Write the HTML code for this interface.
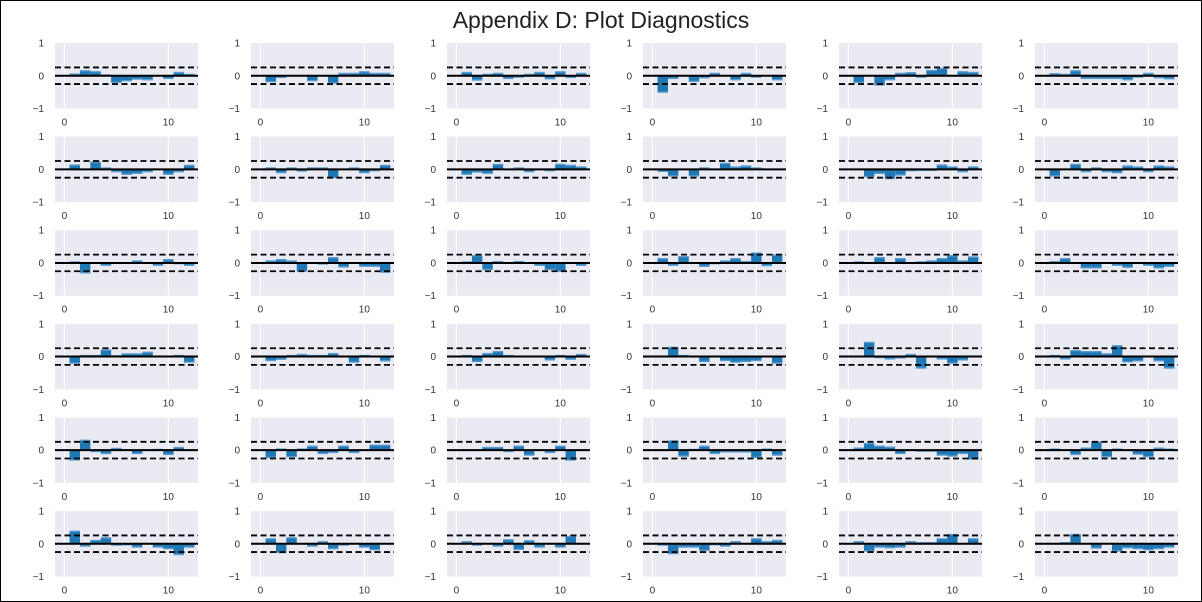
<!DOCTYPE html>
<html><head><meta charset="utf-8"><style>
body{margin:0;background:#fff;}
#fig{position:relative;width:1200px;height:600px;border:1px solid #000;background:#fff;overflow:hidden;font-family:"Liberation Sans",sans-serif;}
#title{position:absolute;left:0;width:1200px;top:6px;text-align:center;font-size:23px;color:#222;}
</style></head><body>
<div id="fig">
<div id="title">Appendix D: Plot Diagnostics</div>
<svg id="svg" width="1200" height="600" style="position:absolute;left:0;top:0"></svg>
</div>
<script>
const lags=[1,2,3,4,5,6,7,8,9,10,11,12];
const yTicks=[-1,0,1];
const xTicks=[0,10];
const confBand=0.254;
const s1=[0.05,0.15,0.12,0.02,-0.2,-0.15,-0.1,-0.12,0,-0.08,0.1,0.04];
const s2=[-0.18,-0.05,0,0,-0.15,0,-0.22,0.07,0.07,0.12,0.07,0.07];
const s3=[0.1,-0.13,0.04,0.07,-0.08,-0.04,0.04,0.1,-0.09,0.12,-0.05,0.07];
const s4=[-0.5,-0.08,0,-0.17,-0.06,0.07,0,-0.12,0.07,-0.04,0,-0.12];
const s5=[-0.2,0,-0.28,-0.12,0.07,0.09,-0.04,0.16,0.22,0,0.12,0.1];
const s6=[0.06,0.04,0.15,-0.08,-0.08,-0.08,-0.08,-0.12,-0.04,0.07,-0.06,-0.09];
const s7=[0.13,0,0.22,0.04,-0.07,-0.15,-0.12,-0.07,0,-0.15,-0.07,0.12];
const s8=[0.04,-0.1,0.04,-0.05,0.04,0.04,-0.25,0,0.04,-0.1,-0.04,0.12];
const s9=[-0.15,-0.08,-0.12,0.15,0,0.04,-0.07,0,-0.04,0.15,0.12,0.07];
const s10=[-0.06,-0.2,0,-0.2,0.04,0,0.18,0.07,0.1,0.04,0,0];
const s11=[0,-0.22,-0.12,-0.28,-0.17,-0.04,-0.03,-0.03,0.13,0.07,-0.07,0.07];
const s12=[-0.2,0,0.15,-0.07,0.04,-0.07,-0.1,0.1,0.07,-0.07,0.1,0.07];
const s13=[0.03,-0.3,0,-0.07,0,0,0.06,0,-0.07,0.1,-0.02,-0.07];
const s14=[0.06,0.1,0.06,-0.25,0,-0.03,0.16,-0.12,0,-0.1,-0.1,-0.28];
const s15=[0.03,0.22,-0.2,0.04,0,0.04,0,-0.07,-0.2,-0.25,0,-0.07];
const s16=[0.13,-0.07,0.19,0,-0.1,-0.02,0.06,0.13,0.04,0.3,-0.08,0.24];
const s17=[0.03,0,0.16,0,0.13,0,0.03,0.06,0.13,0.22,0.06,0.18];
const s18=[0.04,0.13,0,-0.15,-0.15,0,-0.07,-0.13,0,-0.07,-0.15,-0.1];
const s19=[-0.2,0.03,0.03,0.2,0.02,0.08,0.08,0.13,0,0,0.03,-0.17];
const s20=[-0.12,-0.08,0.03,0.06,0.03,0.03,0.09,0,-0.17,0.03,0,-0.13];
const s21=[0.03,-0.15,0.09,0.15,0.03,0,0,0,-0.1,0.03,-0.08,0.06];
const s22=[0,0.28,0.03,0,-0.15,0,-0.12,-0.17,-0.15,-0.12,0,-0.2];
const s23=[0,0.43,-0.03,-0.07,-0.04,0.06,-0.35,0,-0.07,-0.2,-0.1,0];
const s24=[0.03,-0.07,0.18,0.15,0.15,0.08,0.33,-0.16,-0.13,0,-0.13,-0.35];
const s25=[-0.3,0.3,-0.04,-0.1,0.05,0,-0.1,0,0.02,-0.13,0.08,0];
const s26=[-0.22,0.03,-0.2,0.03,0.12,-0.1,-0.07,0.12,-0.07,0,0.15,0.15];
const s27=[0,0,0.08,0.08,-0.04,0.12,-0.15,0,-0.07,0.12,-0.3,0];
const s28=[0,0.28,-0.18,0.02,0.12,-0.1,-0.05,-0.05,-0.05,-0.22,0.03,-0.15];
const s29=[0.06,0.2,0.12,0.09,-0.1,0,-0.03,-0.03,-0.15,-0.18,-0.1,-0.27];
const s30=[0.03,0,-0.13,0.06,0.25,-0.2,0.03,0,-0.12,-0.2,0.06,0.03];
const s31=[0.38,-0.07,0.1,0.18,-0.04,-0.03,-0.1,0,-0.1,-0.15,-0.33,-0.1];
const s32=[0.15,-0.27,0.18,0,-0.07,0.06,-0.15,-0.04,0,-0.1,-0.18,0];
const s33=[0.06,-0.04,0,-0.07,0.12,-0.17,0.09,-0.1,0,-0.1,0.22,0];
const s34=[-0.04,-0.3,-0.1,-0.1,-0.2,-0.03,-0.07,0.06,0,0.15,0.06,0.1];
const s35=[0.06,-0.22,-0.1,-0.12,-0.1,0.06,0.03,0.03,0.15,0.28,0,0.15];
const s36=[0,0.03,0.28,0,-0.13,0,-0.22,-0.12,-0.15,-0.18,-0.15,-0.1];
const series=[s1,s2,s3,s4,s5,s6,s7,s8,s9,s10,s11,s12,s13,s14,s15,s16,s17,s18,s19,s20,s21,s22,s23,s24,s25,s26,s27,s28,s29,s30,s31,s32,s33,s34,s35,s36];

const NS='http://www.w3.org/2000/svg';
const svg=document.getElementById('svg');
function mk(tag,attrs,parent){const e=document.createElementNS(NS,tag);for(const k in attrs)e.setAttribute(k,attrs[k]);(parent||svg).appendChild(e);return e;}
const W=143,H=65.5,X0=-0.9,X1=12.85;
for(let i=0;i<36;i++){
  const r=Math.floor(i/6),c=i%6;
  const L=54+c*196,T=42+r*93.6;
  const xs=v=>L+(v-X0)/(X1-X0)*W;
  const ys=v=>T+(1-v)/2*H;
  const g=mk('g',{});
  
  
  const bg=mk('rect',{x:L,y:T,width:W,height:H,fill:'#eaeaf2'},g);
  
  
  xTicks.forEach(t=>{
    const gl=mk('line',{x1:xs(t),x2:xs(t),y1:T,y2:T+H,stroke:'#fff','stroke-width':1},g);
    
    
    const tx=mk('text',{x:xs(t),y:T+H+17,'text-anchor':'middle','font-size':10,fill:'#333','font-family':'Liberation Sans, sans-serif'},g);
    tx.textContent=t;
    
    
  });
  yTicks.forEach(t=>{
    const ty=mk('text',{x:L-11,y:ys(t)+3.5,'text-anchor':'end','font-size':10,fill:'#333','font-family':'Liberation Sans, sans-serif'},g);
    ty.textContent=t<0?'\u2212'+Math.abs(t):t;
    
    
  });
  const d=series[i];
  lags.forEach((lag,j)=>{
    const v=d[j];
    const y0=ys(0),y1=ys(v);
    const b=mk('rect',{x:xs(lag-0.5),y:Math.min(y0,y1),width:xs(lag+0.5)-xs(lag-0.5),height:Math.abs(y1-y0),fill:'#1f77b4'},g);
    
    
    const cap=mk('rect',{x:xs(lag-0.5),y:y1-0.7,width:xs(lag+0.5)-xs(lag-0.5),height:1.4,fill:'#5a9bd0'},g);
    
    
  });
  const z=mk('line',{x1:L,x2:L+W,y1:ys(0),y2:ys(0),stroke:'#000','stroke-width':2},g);
  
  
  [confBand,-confBand].forEach(v=>{
    const l=mk('line',{x1:L,x2:L+W,y1:ys(v),y2:ys(v),stroke:'#000','stroke-width':1.8,'stroke-dasharray':'6,3.5'},g);
    
    
  });
}
</script>
</body></html>
